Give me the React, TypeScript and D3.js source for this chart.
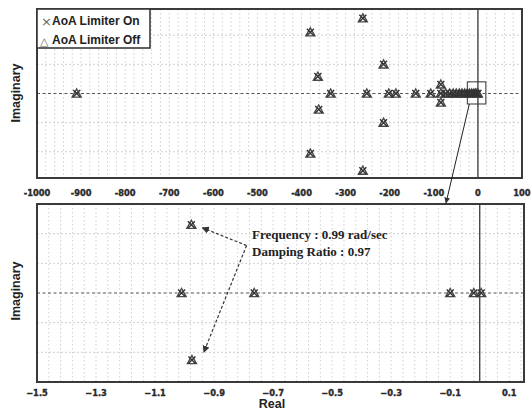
import React from 'react';
import * as d3 from 'd3';

// pole locations, [real, imaginary]
const topPolesOn: [number, number][] = [
  [-910, 0], [-380, 210], [-380, -206], [-261, 258], [-261, -265],
  [-214, 100], [-214, -100], [-363, 58], [-361, -55], [-334, 0],
  [-252, 0], [-202, 0], [-186, 0], [-141, 0], [-107, 0],
  [-84, 31], [-84, -31], [-84, 0], [-73, 0], [-64, 0], [-56, 0], [-49, 0],
  [-42, 0], [-36, 0], [-30, 0], [-24, 0], [-19, 0], [-14, 0], [-9, 0], [-5, 0], [-2, 0], [0, 0],
];
const topPolesOff: [number, number][] = [
  [-910, 0], [-380, 210], [-380, -206], [-261, 258], [-261, -265],
  [-214, 100], [-214, -100], [-363, 58], [-361, -55], [-334, 0],
  [-252, 0], [-202, 0], [-186, 0], [-141, 0], [-107, 0],
  [-84, 31], [-84, -31], [-84, 0], [-73, 0], [-64, 0], [-56, 0], [-49, 0],
  [-42, 0], [-36, 0], [-30, 0], [-24, 0], [-19, 0], [-14, 0], [-9, 0], [-5, 0], [-2, 0], [0, 0],
];
const bottomPolesOn: [number, number][] = [
  [-0.977, 0.23], [-0.975, -0.226], [-1.01, 0], [-0.764, 0],
  [-0.1, 0], [-0.02, 0], [0.005, 0],
];
const bottomPolesOff: [number, number][] = [
  [-0.977, 0.23], [-0.975, -0.226], [-1.01, 0], [-0.764, 0],
  [-0.1, 0], [-0.02, 0], [0.005, 0],
];

const topTicks = [-1000, -900, -800, -700, -600, -500, -400, -300, -200, -100, 0, 100];
const bottomTicks = [-1.5, -1.3, -1.1, -0.9, -0.7, -0.5, -0.3, -0.1, 0.1];
const legendLabels = ['AoA Limiter On', 'AoA Limiter Off'];
const noteLines = ['Frequency : 0.99 rad/sec', 'Damping Ratio : 0.97'];

const W = 531;
const H = 411;
const ink = '#3a3a3a';
const gridCol = '#c4c4c4';

const Marks = ({ pts, x, y, kind }: any) => (
  <g>
    {pts.map((p: [number, number], i: number) => {
      const cx = x(p[0]);
      const cy = y(p[1]);
      if (kind === 'x') {
        const s = 3.5;
        return (
          <path key={i} d={`M${cx - s},${cy - s}L${cx + s},${cy + s}M${cx - s},${cy + s}L${cx + s},${cy - s}`}
            stroke="#333" strokeWidth={1.4} fill="none" />
        );
      }
      const s = 4.5;
      return (
        <path key={i} d={`M${cx},${cy - s}L${cx + s},${cy + s * 0.8}L${cx - s},${cy + s * 0.8}Z`}
          stroke="#4a4a4a" strokeWidth={1.4} fill="none" />
      );
    })}
  </g>
);

const Panel = ({ x, y, xGrid, yGrid, ticks, fmt, tickY }: any) => {
  const [x0, x1] = x.range();
  const [y1, y0] = y.range();
  return (
    <g>
      {xGrid.map((v: number, i: number) => (
        <line key={'vx' + i} x1={x(v)} x2={x(v)} y1={y0} y2={y1} stroke={gridCol} strokeWidth={0.8} strokeDasharray="1.5,2.5" />
      ))}
      {yGrid.map((v: number, i: number) => (
        <line key={'hy' + i} x1={x0} x2={x1} y1={y(v)} y2={y(v)} stroke={gridCol} strokeWidth={0.8} strokeDasharray="2,2" />
      ))}
      <line x1={x0} x2={x1} y1={y(0)} y2={y(0)} stroke="#555" strokeWidth={1} strokeDasharray="3,2.5" />
      <line x1={x(0)} x2={x(0)} y1={y0} y2={y1} stroke={ink} strokeWidth={1.3} />
      <rect x={x0} y={y0} width={x1 - x0} height={y1 - y0} fill="none" stroke={ink} strokeWidth={2} />
      {ticks.map((t: number, i: number) => (
        <text key={'t' + i} x={x(t)} y={tickY} textAnchor="middle" dominantBaseline="central"
          fontFamily="DejaVu Sans" fontWeight="bold" fontSize={8.3} fill="#2a2a2a"
          stroke="#2a2a2a" strokeWidth={0.35}>{fmt(t)}</text>
      ))}
    </g>
  );
};

export default function App() {
  const xTop = d3.scaleLinear().domain([-1000, 100]).range([37, 522]);
  const yTop = d3.scaleLinear().domain([-290, 290]).range([178, 9]);
  const xBot = d3.scaleLinear().domain([-1.5, 0.15]).range([37, 524]);
  const yBot = d3.scaleLinear().domain([-0.3, 0.3]).range([382, 204]);

  const topGridX = d3.range(-1000, 101, 20);
  const topGridY = [-200, -100, 100, 200];
  const botGridX = d3.range(-1.5, 0.151, 0.04);
  const botGridY = [-0.2, -0.1, 0.1, 0.2];

  // zoom box around the origin and its connector
  const bx0 = xTop(-24), bx1 = xTop(18), by0 = yTop(40), by1 = yTop(-36);
  const connEnd: [number, number] = [446, 203];

  // annotation arrows in the lower panel
  const src: [number, number] = [xBot(-0.79), yBot(0.16)];
  const tipUp: [number, number] = [xBot(-0.94), yBot(0.22)];
  const tipDn: [number, number] = [xBot(-0.935), yBot(-0.2)];

  return (
    <svg width={W} height={H} style={{ position: 'absolute', left: 0, top: 0, background: '#fff' }}>
      <defs>
        <marker id="ah" viewBox="0 0 10 10" refX="9" refY="5" markerWidth="6" markerHeight="6" orient="auto-start-reverse">
          <path d="M0,0L10,5L0,10Z" fill="#333" />
        </marker>
      </defs>
      <rect width={W} height={H} fill="#fff" />

      <Panel x={xTop} y={yTop} xGrid={topGridX} yGrid={topGridY} ticks={topTicks}
        fmt={(t: number) => String(t)} tickY={193} />
      <Marks pts={topPolesOff} x={xTop} y={yTop} kind="tri" />
      <Marks pts={topPolesOn} x={xTop} y={yTop} kind="x" />

      <Panel x={xBot} y={yBot} xGrid={botGridX} yGrid={botGridY} ticks={bottomTicks}
        fmt={(t: number) => d3.format('.1f')(t)} tickY={393} />
      <Marks pts={bottomPolesOff} x={xBot} y={yBot} kind="tri" />
      <Marks pts={bottomPolesOn} x={xBot} y={yBot} kind="x" />

      {/* legend */}
      <rect x={37} y={9} width={113} height={39} fill="#fff" stroke={ink} strokeWidth={1.6} />
      <text x={41} y={21} dominantBaseline="central" fontFamily="DejaVu Sans" fontSize={13} fill="#666">×</text>
      <text x={40} y={41} dominantBaseline="central" fontFamily="DejaVu Sans" fontSize={11} fill="#666">△</text>
      {legendLabels.map((l, i) => (
        <text key={l} x={52} y={21 + i * 19} dominantBaseline="central" fontFamily="Liberation Sans"
          fontWeight="bold" fontSize={12} fill="#222">{l}</text>
      ))}

      {/* zoom box and connector */}
      <rect x={bx0} y={by0} width={bx1 - bx0} height={by1 - by0} fill="none" stroke="#333" strokeWidth={1} />
      <line x1={bx0 + 2} y1={by1} x2={connEnd[0]} y2={connEnd[1]} stroke="#222" strokeWidth={1} markerEnd="url(#ah)" />

      {/* annotation */}
      {noteLines.map((l, i) => (
        <text key={l} x={252} y={234 + i * 17} dominantBaseline="central" fontFamily="Liberation Serif"
          fontWeight="bold" fontSize={13} fill="#222">{l}</text>
      ))}
      <line x1={src[0]} y1={src[1]} x2={tipUp[0]} y2={tipUp[1]} stroke="#333" strokeWidth={1.2} strokeDasharray="3,2" markerEnd="url(#ah)" />
      <line x1={src[0]} y1={src[1]} x2={tipDn[0]} y2={tipDn[1]} stroke="#333" strokeWidth={1.2} strokeDasharray="3,2" markerEnd="url(#ah)" />

      {/* axis titles */}
      <text x={272} y={404} textAnchor="middle" dominantBaseline="central" fontFamily="Liberation Sans"
        fontWeight="bold" fontSize={12.5} fill="#222">Real</text>
      {[93, 291].map((cy) => (
        <text key={cy} transform={`translate(16,${cy}) rotate(-90)`} textAnchor="middle" dominantBaseline="central"
          fontFamily="Liberation Sans" fontWeight="bold" fontSize={12.5} fill="#222">Imaginary</text>
      ))}
    </svg>
  );
}
